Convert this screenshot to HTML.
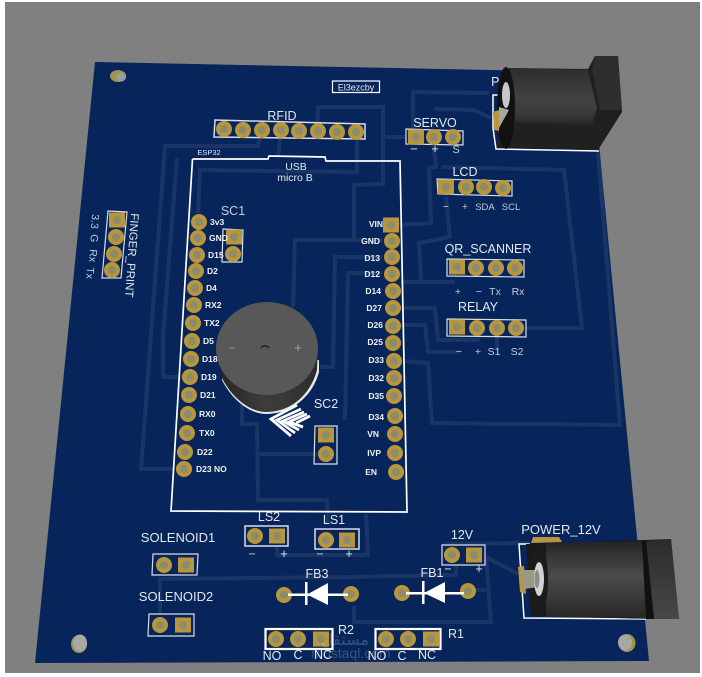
<!DOCTYPE html>
<html><head><meta charset="utf-8"><style>
html,body{margin:0;padding:0;background:#fff;width:702px;height:677px;overflow:hidden}
svg{display:block}
text{font-family:"Liberation Sans",sans-serif;fill:#e4e8ee}
.l{font-size:12.500px;text-anchor:middle}
.s{font-size:10.500px;text-anchor:middle;fill:#c3cbd8}
.p{font-size:8.500px;font-weight:bold;fill:#f2f2f2}
.e{font-size:8.500px;font-weight:bold;fill:#f2f2f2;text-anchor:end}
.t{fill:none;stroke:#1a3565;stroke-width:4}
.b{fill:none;stroke:#d8dde6;stroke-width:1.2}
</style></head><body>
<svg width="702" height="677" viewBox="0 0 702 677" xmlns="http://www.w3.org/2000/svg">
<defs>
<g id="c"><circle r="8" fill="#b9953c"/><circle r="4" fill="#8b8c6c"/></g>
<g id="q"><rect x="-8" y="-7.500" width="16" height="15" fill="#b9953c"/><circle r="4" fill="#8b8c6c"/></g>
<linearGradient id="cy1" x1="0" y1="0" x2="0" y2="1"><stop offset="0" stop-color="#2d2d2d"/><stop offset=".55" stop-color="#414241"/><stop offset=".8" stop-color="#3a3a3a"/><stop offset="1" stop-color="#262626"/></linearGradient>
<linearGradient id="cy2" x1="0" y1="0" x2="0" y2="1"><stop offset="0" stop-color="#232323"/><stop offset=".45" stop-color="#4b4c4a"/><stop offset="1" stop-color="#272727"/></linearGradient>
<linearGradient id="bl" x1="0" y1="0" x2="0" y2="1"><stop offset="0" stop-color="#2b2b2b"/><stop offset="1" stop-color="#474747"/></linearGradient>
<linearGradient id="bz" x1="0" y1="0" x2="1" y2="0"><stop offset="0" stop-color="#242424"/><stop offset=".5" stop-color="#3d3d3d"/><stop offset="1" stop-color="#2c2c2c"/></linearGradient>
</defs>
<rect x="5" y="2" width="695" height="671" fill="#808080"/>
<polygon points="95,62 592,72 649,661 35,663" fill="#07255a"/>

<!-- traces -->
<g class="t">
<polyline points="260,139 258,146 165,146 141,469 173,469"/>
<polyline points="280,139 278,157"/>
<polyline points="177,158 163,337 163,377 182,377"/>
<polyline points="198,213 200,170 357,172 357,140"/>
<polyline points="317,133 318,107 383,107 383,184 354,185 354,240"/>
<polyline points="293,307 295,240 382,240"/>
<polyline points="320,367 333,367 335,257 382,257"/>
<polyline points="345,420 348,273 382,273"/>
<polyline points="383,137 406,137"/>
<polyline points="413,133 413,92 489,93"/>
<polyline points="434,109 474,110 491,118"/>
<polyline points="434,147 436,167 429,168 431,223 399,225"/>
<polyline points="441,167 564,170 582,328 526,328"/>
<polyline points="446,197 450,237 419,243 421,282 401,282"/>
<polyline points="421,282 455,282"/>
<polyline points="598,153 620,425 432,423 428,363 404,361"/>
<polyline points="401,308 435,308 438,340 480,340"/>
<polyline points="401,325 425,325 428,352 460,352"/>
<polyline points="497,337 497,350"/>
<polyline points="242,390 242,424 257,424 258,500 327,500 328,524"/>
<polyline points="257,454 317,454"/>
<polyline points="277,546 277,555 368,555 366,514"/>
<polyline points="160,615 160,579 351,577 456,575 456,566"/>
<polyline points="486,557 518,574"/>
<polyline points="486,557 491,622 354,622 354,606"/>
<polyline points="471,590 486,590"/>
<polyline points="444,544 530,543"/>
</g>

<!-- mount holes -->
<ellipse cx="118" cy="76" rx="8" ry="6" fill="#a09448"/><ellipse cx="121" cy="77" rx="5" ry="4.500" fill="#9b9b9b"/>
<ellipse cx="79" cy="644" rx="8" ry="9" fill="#a09448"/><ellipse cx="80" cy="643" rx="7" ry="8.500" fill="#a8a8a8"/>
<ellipse cx="627" cy="643" rx="8.500" ry="9" fill="#a09448"/><ellipse cx="625" cy="642.500" rx="7" ry="8" fill="#a8a8a8"/>

<!-- silk boxes -->
<g class="b">
<polygon points="215,120 365,124 365,139 214,137" stroke-width="1.500"/>
<polygon points="406,129 463,131 463,145 406,144"/>
<polygon points="437,179 512,181 512,196 438,194"/>
<polygon points="447,259 524,260 524,277 447,276"/>
<polygon points="447,319 526,320 526,337 447,336"/>
<polygon points="108,211 127,212 121,278 102,278"/>
<polygon points="223,229 243,230 242,262 222,262"/>
<polygon points="315,426 337,426 337,464 314,464"/>
<polygon points="245,526 288,526 288,546 245,546" stroke-width="1.500"/>
<polygon points="315,529 359,529 359,549 315,549" stroke-width="1.500"/>
<polygon points="153,554 198,554 197,575 152,575"/>
<polygon points="149,614 194,614 194,636 148,636"/>
<polygon points="442,545 485,545 485,565 442,565"/>
<rect x="265.500" y="629" width="67" height="20" stroke="#fff" stroke-width="2.200"/>
<rect x="375.500" y="629" width="65" height="20" stroke="#fff" stroke-width="2.200"/>
<rect x="332.500" y="81" width="47" height="11.500" stroke="#fff"/>
<polyline points="192.500,159 268,159 269,156 325,157 326,161 400,161 407,512 171,511 192.500,159" stroke="#fff" stroke-width="1.700"/>
<polyline points="493,128 493,95 500,95" stroke="#fff" stroke-width="1.500"/>
<polyline points="493,128 496,149 599,151" stroke="#fff" stroke-width="1.500"/>
<polyline points="530,544 519,544 524,618 646,619" stroke="#fff" stroke-width="1.500"/>
</g>

<!-- ESP pads -->
<use href="#c" x="199" y="222"/><use href="#c" x="198" y="238"/><use href="#c" x="197" y="255"/><use href="#c" x="196" y="271"/><use href="#c" x="195" y="288"/><use href="#c" x="194" y="305"/><use href="#c" x="193" y="323"/><use href="#c" x="192" y="341"/><use href="#c" x="191" y="359"/><use href="#c" x="190" y="377"/><use href="#c" x="189" y="395"/><use href="#c" x="188" y="414"/><use href="#c" x="187" y="433"/><use href="#c" x="185" y="452"/><use href="#c" x="184" y="469"/>
<use href="#q" x="391" y="225"/><use href="#c" x="392" y="241"/><use href="#c" x="392" y="257"/><use href="#c" x="392" y="274"/><use href="#c" x="393" y="291"/><use href="#c" x="393" y="308"/><use href="#c" x="393" y="326"/><use href="#c" x="393" y="343"/><use href="#c" x="394" y="361"/><use href="#c" x="394" y="378"/><use href="#c" x="394" y="396"/><use href="#c" x="395" y="416"/><use href="#c" x="395" y="434"/><use href="#c" x="395" y="453"/><use href="#c" x="396" y="472"/>

<!-- connector pads -->
<use href="#c" x="224" y="129"/><use href="#c" x="243" y="130"/><use href="#c" x="262" y="130"/><use href="#c" x="281" y="130"/><use href="#c" x="299" y="131"/><use href="#c" x="318" y="131"/><use href="#c" x="337" y="132"/><use href="#c" x="356" y="132"/>
<use href="#q" x="416" y="137"/><use href="#c" x="434" y="137"/><use href="#c" x="453" y="137"/>
<use href="#q" x="446" y="187"/><use href="#c" x="466" y="187"/><use href="#c" x="484" y="187"/><use href="#c" x="503" y="188"/>
<use href="#q" x="457" y="267"/><use href="#c" x="476" y="268"/><use href="#c" x="496" y="268"/><use href="#c" x="515" y="268"/>
<use href="#q" x="457" y="327"/><use href="#c" x="477" y="328"/><use href="#c" x="497" y="328"/><use href="#c" x="516" y="328"/>
<use href="#q" x="117" y="220"/><use href="#c" x="116" y="237"/><use href="#c" x="114" y="254"/><use href="#c" x="112" y="270"/>
<use href="#q" x="234" y="237"/><use href="#c" x="233" y="254"/>
<use href="#q" x="326" y="435"/><use href="#c" x="326" y="454"/>
<use href="#c" x="255" y="536"/><use href="#q" x="277" y="536"/>
<use href="#c" x="326" y="540"/><use href="#q" x="347" y="540"/>
<use href="#c" x="164" y="565"/><use href="#q" x="186" y="565"/>
<use href="#c" x="160" y="625"/><use href="#q" x="183" y="625"/>
<use href="#c" x="452" y="555"/><use href="#q" x="474" y="555"/>
<use href="#c" x="276" y="639"/><use href="#c" x="298" y="639"/><use href="#q" x="321" y="639"/>
<use href="#c" x="386" y="639"/><use href="#c" x="408" y="639"/><use href="#q" x="431" y="639"/>
<use href="#c" x="284" y="595"/><use href="#c" x="351" y="594"/><use href="#c" x="402" y="593"/><use href="#c" x="468" y="591"/>

<!-- diodes -->
<rect x="288" y="593.500" width="60" height="2.500" fill="#fff"/><rect x="305" y="582" width="2.500" height="23" fill="#fff"/><polygon points="307,594.500 328,583 328,605" fill="#fff"/>
<rect x="406" y="592" width="58" height="2.500" fill="#fff"/><rect x="422" y="581" width="2.500" height="23" fill="#fff"/><polygon points="424,593 445,582 445,603" fill="#fff"/>

<!-- ESP labels -->
<text class="p" x="210" y="225">3v3</text><text class="p" x="209" y="241">GND</text><text class="p" x="208" y="258">D15</text><text class="p" x="207" y="274">D2</text><text class="p" x="206" y="291">D4</text><text class="p" x="205" y="308">RX2</text><text class="p" x="204" y="326">TX2</text><text class="p" x="203" y="344">D5</text><text class="p" x="202" y="362">D18</text><text class="p" x="201" y="380">D19</text><text class="p" x="200" y="398">D21</text><text class="p" x="199" y="417">RX0</text><text class="p" x="199" y="436">TX0</text><text class="p" x="197" y="455">D22</text><text class="p" x="196" y="472">D23 NO</text>
<text class="e" x="383" y="227">VIN</text><text class="e" x="380" y="244">GND</text><text class="e" x="380" y="261">D13</text><text class="e" x="380" y="277">D12</text><text class="e" x="381" y="294">D14</text><text class="e" x="382" y="311">D27</text><text class="e" x="383" y="328">D26</text><text class="e" x="383" y="345">D25</text><text class="e" x="384" y="363">D33</text><text class="e" x="384" y="381">D32</text><text class="e" x="384" y="399">D35</text><text class="e" x="384" y="420">D34</text><text class="e" x="379" y="437">VN</text><text class="e" x="381" y="456">IVP</text><text class="e" x="377" y="475">EN</text>

<!-- labels -->
<text class="l" x="282" y="120">RFID</text>
<text x="356" y="90.500" style="font-size:9px;text-anchor:middle">El3ezcby</text>
<text x="209" y="155" style="font-size:7.500px;text-anchor:middle">ESP32</text>
<text x="296" y="170" style="font-size:10.500px;text-anchor:middle">USB</text>
<text x="295" y="181" style="font-size:10.500px;text-anchor:middle">micro B</text>
<text class="l" x="435" y="127">SERVO</text>
<text class="l" x="414" y="153">−</text><text class="l" x="435" y="153">+</text><text class="s" x="456" y="153" style="font-size:11px">S</text>
<text class="l" x="465" y="176">LCD</text>
<text class="s" x="446" y="210">−</text><text class="s" x="465" y="210">+</text><text class="s" x="485" y="210" style="font-size:9.500px">SDA</text><text class="s" x="511" y="210" style="font-size:9.500px">SCL</text>
<text class="l" x="488" y="253">QR_SCANNER</text>
<text class="s" x="458" y="295">+</text><text class="s" x="479" y="295">−</text><text class="s" x="495" y="295">Tx</text><text class="s" x="518" y="295">Rx</text>
<text class="l" x="478" y="311">RELAY</text>
<text class="s" x="459" y="355">−</text><text class="s" x="478" y="355">+</text><text class="s" x="494" y="355">S1</text><text class="s" x="517" y="355">S2</text>
<text class="l" x="233" y="215" style="fill:#c9d0da">SC1</text>
<text class="l" x="326" y="408">SC2</text>
<text class="l" x="269" y="521">LS2</text><text class="l" x="334" y="524">LS1</text>
<text class="l" x="252" y="558" style="fill:#c3cbd8">−</text><text class="l" x="284" y="558">+</text><text class="l" x="320" y="558" style="fill:#c3cbd8">−</text><text class="l" x="349" y="558">+</text>
<text class="l" x="178" y="542" style="font-size:13px">SOLENOID1</text>
<text class="l" x="176" y="601" style="font-size:13px">SOLENOID2</text>
<text class="l" x="317" y="578">FB3</text><text class="l" x="432" y="577">FB1</text>
<text class="l" x="462" y="539">12V</text>
<text class="l" x="448" y="573">−</text><text class="l" x="479" y="573">+</text>
<text class="l" x="561" y="534" style="font-size:13px">POWER_12V</text>
<text class="l" x="346" y="634">R2</text><text class="l" x="456" y="638">R1</text>
<text class="l" x="272" y="660">NO</text><text class="l" x="298" y="659">C</text><text class="l" x="323" y="659">NC</text>
<text class="l" x="377" y="660">NO</text><text class="l" x="402" y="660">C</text><text class="l" x="427" y="659">NC</text>
<text class="l" x="499" y="86">PA</text>
<text transform="translate(131,213) rotate(94)" style="font-size:11.500px">FINGER_PRINT</text>
<text transform="translate(92,214) rotate(94)" style="font-size:10.500px;fill:#c3cbd8">3.3</text>
<text transform="translate(91,234) rotate(94)" style="font-size:10.500px;fill:#c3cbd8">G</text>
<text transform="translate(90,249) rotate(94)" style="font-size:10.500px;fill:#c3cbd8">Rx</text>
<text transform="translate(87,267) rotate(94)" style="font-size:10.500px;fill:#c3cbd8">Tx</text>

<!-- watermark -->
<text x="351" y="658" style="font-size:14px;text-anchor:middle;fill:#fff;opacity:.2">mostaql.com</text>
<text x="345" y="645" style="font-size:16px;text-anchor:middle;fill:#fff;opacity:.2;font-family:'Liberation Sans','DejaVu Sans',sans-serif">مستقل</text>

<!-- logo -->
<g fill="none" stroke="#fff" stroke-width="2.800">
<polyline points="297,405 271,419 291,436"/>
<polyline points="301,409 277,420 295,433"/>
<polyline points="304,412 283,421 299,430"/>
<polyline points="307,414 289,422 303,427"/>
<polyline points="310,416 296,423"/>
</g>

<!-- buzzer -->
<path d="M222,380 C232,400 250,414 266,414 C290,414 312,398 319,372 L319,360 L222,360 Z" fill="#e8e8e8"/>
<path d="M216,350 L222,378 C232,398 250,412 266,412 C290,412 310,396 317,370 L318,346 Z" fill="url(#bz)"/>
<ellipse cx="267" cy="348.500" rx="51" ry="46.500" fill="#585858"/>
<text x="232" y="352" style="font-size:12px;text-anchor:middle;fill:#9a9a9a">−</text>
<text x="298" y="352" style="font-size:13px;text-anchor:middle;fill:#a8a8a8">+</text>
<path d="M261,348 a4.500,4 0 0 1 8,0" fill="none" stroke="#222" stroke-width="1.500"/>

<!-- top jack -->
<polygon points="498,148 598,150 622,112 618,56 595,56 588,69 509,68 498,83" fill="#202020"/>
<polygon points="595,56 618,56 622,110 600,110 592,70" fill="#2e2e2e"/>
<polygon points="510,68 588,70 597,108 592,125 510,122" fill="url(#cy1)"/>
<ellipse cx="506" cy="108" rx="9" ry="41" fill="#111"/>
<polygon points="493,112 499,110 499,131 494,130" fill="#b9953c"/>
<polygon points="499,107 509,110 499,128" fill="#a8a8a0"/>
<ellipse cx="506" cy="95" rx="4" ry="13" fill="#c8c8c8"/>

<!-- bottom jack -->
<polygon points="526,544 644,540 671,539 679,619 653,619 531,616" fill="#191919"/>
<polygon points="546,543 644,541 650,618 546,617" fill="url(#cy2)"/>
<polygon points="646,541 671,539 679,619 653,619" fill="url(#bl)"/>
<polygon points="642,541 646,541 654,619 646,619" fill="#111"/>
<ellipse cx="538" cy="580" rx="10" ry="37" fill="#1b1b1b"/>
<path d="M533,537 L559,537 L562,542 L531,543 Z" fill="#b9953c"/>
<polygon points="518,567 524,566 526,594 520,592" fill="#b9953c"/>
<polygon points="521,570 538,570 538,587 524,589" fill="#999a80"/>
<ellipse cx="539" cy="579" rx="5" ry="17" fill="#d2d2d2"/>
<ellipse cx="537" cy="579" rx="2.500" ry="9" fill="#8c8c8c"/>
</svg>
</body></html>
